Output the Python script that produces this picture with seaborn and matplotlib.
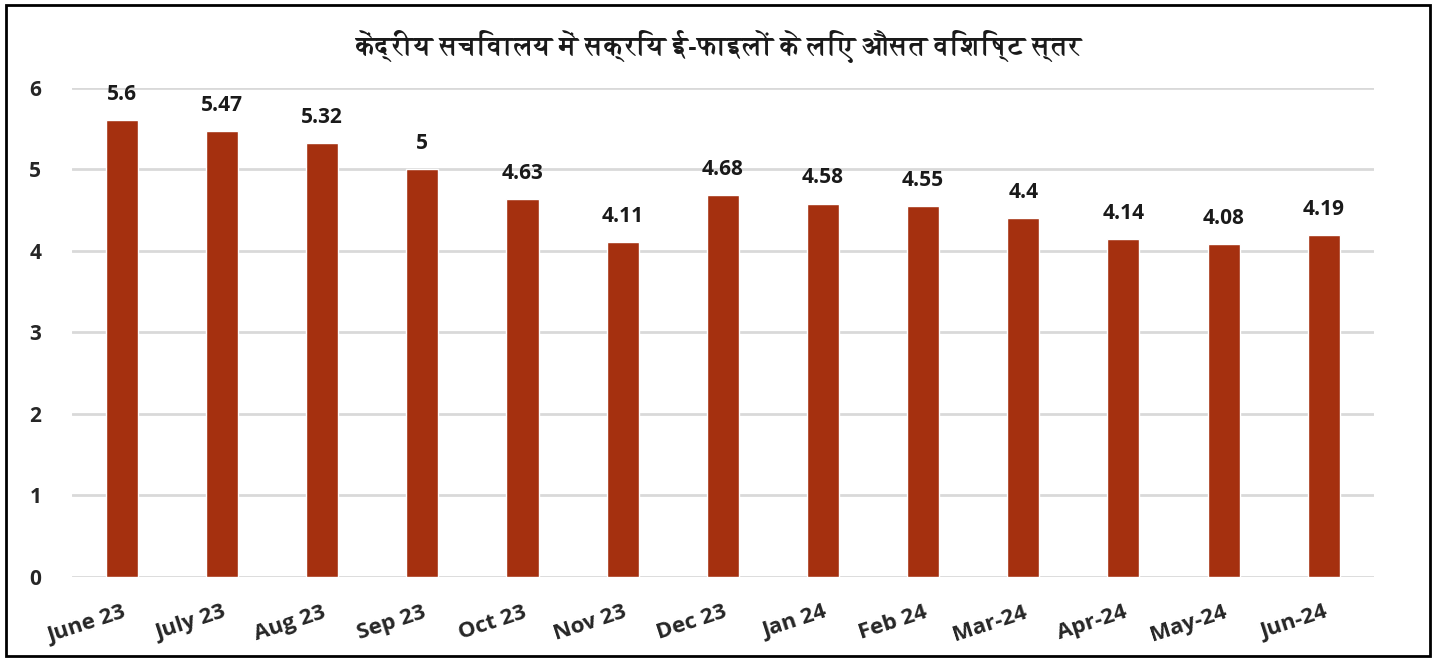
import matplotlib
matplotlib.use("Agg")
import matplotlib.pyplot as plt
from matplotlib import font_manager
from matplotlib.ft2font import FT2Font
import seaborn as sns
import pandas as pd

months = ["June 23", "July 23", "Aug 23", "Sep 23", "Oct 23", "Nov 23", "Dec 23",
          "Jan 24", "Feb 24", "Mar-24", "Apr-24", "May-24", "Jun-24"]
values = [5.6, 5.47, 5.32, 5, 4.63, 4.11, 4.68, 4.58, 4.55, 4.4, 4.14, 4.08, 4.19]
value_labels = ["5.6", "5.47", "5.32", "5", "4.63", "4.11", "4.68", "4.58", "4.55",
                "4.4", "4.14", "4.08", "4.19"]
title = "केंद्रीय सचिवालय में सक्रिय ई-फाइलों के लिए औसत विशिष्ट स्तर"

bar_color = "#A5300F"

sns.set_theme(style="white")
plt.rcParams["font.family"] = ["Open Sans", "DejaVu Sans"]


def find_devanagari_font():
    # any installed font with Devanagari glyphs, prefer a bold face
    found = []
    for f in font_manager.fontManager.ttflist:
        try:
            cmap = FT2Font(f.fname).get_charmap()
        except Exception:
            continue
        if 0x0915 in cmap and 0x093F in cmap:
            found.append(f)
    if not found:
        return None, "normal"
    bold = [f for f in found if f.weight in ("bold", 700, "heavy", 800, 900)]
    if bold:
        return bold[0].name, "bold"
    return found[0].name, "normal"


deva, deva_weight = find_devanagari_font()
title_family = [deva, "DejaVu Sans"] if deva else ["DejaVu Sans"]

df = pd.DataFrame({"month": months, "value": values})

fig = plt.figure(figsize=(14.37, 6.6), dpi=100)
ax = fig.add_axes([0.050, 0.126, 0.906, 0.741])

sns.barplot(data=df, x="month", y="value", color=bar_color, saturation=1,
            width=0.32, ax=ax, zorder=3)

ax.set_ylim(0, 6)
ax.set_xlim(-0.5, len(months) - 0.5)
ax.set_yticks(range(0, 7))
ax.yaxis.grid(True, color="#d9d9d9", linewidth=2, zorder=0)
ax.xaxis.grid(False)
for s in ax.spines.values():
    s.set_visible(False)

ax.set_xlabel("")
ax.set_ylabel("")
ax.tick_params(axis="y", length=0, pad=22, labelsize=15)
ax.tick_params(axis="x", length=0, pad=18, labelsize=16)
for t in ax.get_yticklabels():
    t.set_fontweight("bold")
for t in ax.get_xticklabels():
    t.set_fontweight("bold")
    t.set_rotation(18)
    t.set_rotation_mode("anchor")
    t.set_ha("right")
    t.set_va("top")

for patch, lab in zip(ax.patches, value_labels):
    x = patch.get_x() + patch.get_width() / 2
    y = patch.get_height()
    ax.annotate(lab, (x, y), xytext=(0, 11), textcoords="offset points",
                ha="center", va="bottom", fontsize=15, fontweight="bold",
                color="#1a1a1a")

fig.text(0.5, 0.930, title, ha="center", va="center", fontsize=19.5,
         fontweight=deva_weight, family=title_family, color="#1a1a1a")

# outer frame
fig.patches.append(plt.Rectangle((0.004, 0.006), 0.991, 0.986, transform=fig.transFigure,
                                 fill=False, edgecolor="black", linewidth=2))

fig.savefig("out.png", dpi=100)
